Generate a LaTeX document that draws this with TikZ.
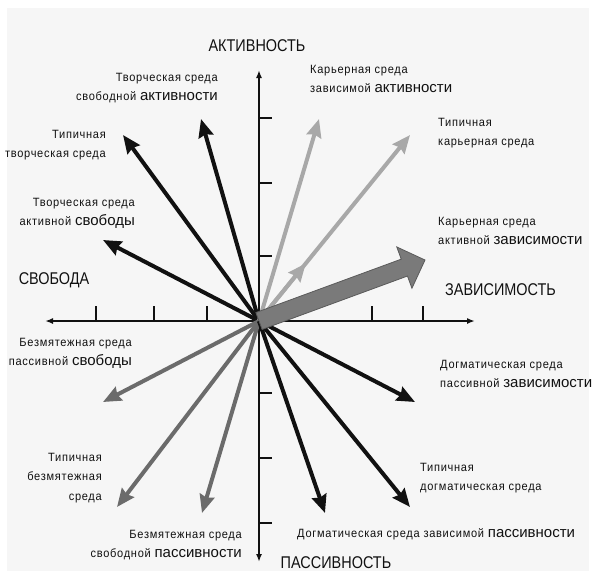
\documentclass[tikz,border=0pt]{standalone}
\usepackage{fontspec}
\usetikzlibrary{arrows.meta,calc}
\newfontfamily\smf[FakeStretch=0.92,LetterSpace=6]{Liberation Sans}
\newfontfamily\bwf{Liberation Sans}
\newfontfamily\bgf[FakeStretch=0.85]{Liberation Sans}
\newcommand{\bigword}[1]{{\bwf\fontsize{15}{19.5}\selectfont #1}}
\definecolor{cblk}{HTML}{111111}
\definecolor{clgr}{HTML}{A8A8A8}
\definecolor{cdgr}{HTML}{6B6B6B}
\definecolor{cfat}{HTML}{7A7A7A}
\definecolor{cfatd}{HTML}{5A5A5A}
\definecolor{cbg}{HTML}{F6F6F6}
\tikzset{
  axline/.style={line width=1.8pt, draw=cblk, -{Latex[length=8pt,width=6pt]}},
  tk/.style={line width=1.6pt, draw=cblk},
  vec/.style={line width=4pt, -{Stealth[length=18pt,width=15pt,inset=2pt]}},
  blk/.style={vec, draw=cblk},
  lgr/.style={vec, draw=clgr},
  dgr/.style={vec, draw=cdgr},
  lbl/.style={inner sep=0pt, text=cblk, font=\smf\fontsize{12}{19.5}\selectfont},
  axcap/.style={inner sep=0pt, text=cblk, font=\bgf\fontsize{17}{20}\selectfont},
}
\begin{document}
\begin{tikzpicture}[x=1pt,y=-1pt]
\useasboundingbox (0,0) rectangle (596,571);
\fill[white] (0,0) rectangle (596,571);
\fill[cbg] (7,8) rectangle (589,571);

% centre and axis ends
\coordinate (O) at (259,321);
\coordinate (AT) at (259,70);
\coordinate (AB) at (259,562);
\coordinate (AL) at (45,321);
\coordinate (AR) at (475,321);

% axes
\draw[axline] (O) -- (AT);
\draw[axline] (O) -- (AB);
\draw[axline] (O) -- (AL);
\draw[axline] (O) -- (AR);

% ticks
\foreach \yy in {118,183,256,393,458,523}
  \draw[tk] (259,\yy) -- (272,\yy);
\foreach \xx in {96,154,207,372,423}
  \draw[tk] (\xx,321) -- (\xx,306);

% arrow ends
\coordinate (T1) at (201,119);
\coordinate (T2) at (123,135);
\coordinate (T3) at (103,240);
\coordinate (T4) at (319,119);
\coordinate (T5) at (410,135);
\coordinate (T6) at (425,260);
\coordinate (T7) at (103,402);
\coordinate (T8) at (117,507);
\coordinate (T9) at (202,513);
\coordinate (T10) at (325,513);
\coordinate (T11) at (415,402);
\coordinate (T12) at (410,507);
\coordinate (M5) at ($(O)!0.31!(T5)$);

% vectors
\draw[blk] (O) -- (T1);
\draw[blk] (O) -- (T2);
\draw[blk] (O) -- (T3);
\draw[lgr] (O) -- (T4);
\draw[lgr] (O) -- (T5);
\draw[lgr] (O) -- (M5);
\draw[dgr] (O) -- (T7);
\draw[dgr] (O) -- (T8);
\draw[dgr] (O) -- (T9);
\draw[blk] (O) -- (T10);
\draw[blk] (O) -- (T11);
\draw[blk] (O) -- (T12);

% fat arrow
\coordinate (B6) at ($(T6)!22pt!(O)$);
\filldraw[fill=cfat, draw=cfatd, line width=0.8pt, line join=miter]
  ($(O)!9pt!90:(T6)$) -- ($(B6)!9pt!90:(T6)$) -- ($(B6)!22pt!90:(T6)$) -- (T6)
  -- ($(B6)!22pt!-90:(T6)$) -- ($(B6)!9pt!-90:(T6)$) -- ($(O)!9pt!-90:(T6)$) -- cycle;

% axis captions
\node[axcap] (cA) at (257,46) {АКТИВНОСТЬ};
\node[axcap] (cP) at (336,563) {ПАССИВНОСТЬ};
\node[axcap] (cS) at (54,280) {СВОБОДА};
\node[axcap, anchor=west] (cZ) at (445,290) {ЗАВИСИМОСТЬ};

% labels
\node[lbl, align=right, anchor=north east] (L1) at (218,73) {Творческая среда\\свободной \bigword{активности}};
\node[lbl, align=right, anchor=north east] (L2) at (106,130) {Типичная\\творческая среда};
\node[lbl, align=right, anchor=north east] (L3) at (135,198) {Творческая среда\\активной \bigword{свободы}};
\node[lbl, align=left, anchor=north west] (L4) at (310,65) {Карьерная среда\\зависимой \bigword{активности}};
\node[lbl, align=left, anchor=north west] (L5) at (438,118) {Типичная\\карьерная среда};
\node[lbl, align=left, anchor=north west] (L6) at (438,217) {Карьерная среда\\активной \bigword{зависимости}};
\node[lbl, align=right, anchor=north east] (L7) at (132,338) {Безмятежная среда\\пассивной \bigword{свободы}};
\node[lbl, align=right, anchor=north east] (L8) at (102,453) {Типичная\\безмятежная\\среда};
\node[lbl, align=right, anchor=north east] (L9) at (242,530) {Безмятежная среда\\свободной \bigword{пассивности}};
\node[lbl, align=left, anchor=north west] (L10) at (440,360) {Догматическая среда\\пассивной \bigword{зависимости}};
\node[lbl, align=left, anchor=north west] (L11) at (420,463) {Типичная\\догматическая среда};
\node[lbl, anchor=base west] (L12) at (297,537) {Догматическая среда зависимой \bigword{пассивности}};
\end{tikzpicture}
\end{document}
